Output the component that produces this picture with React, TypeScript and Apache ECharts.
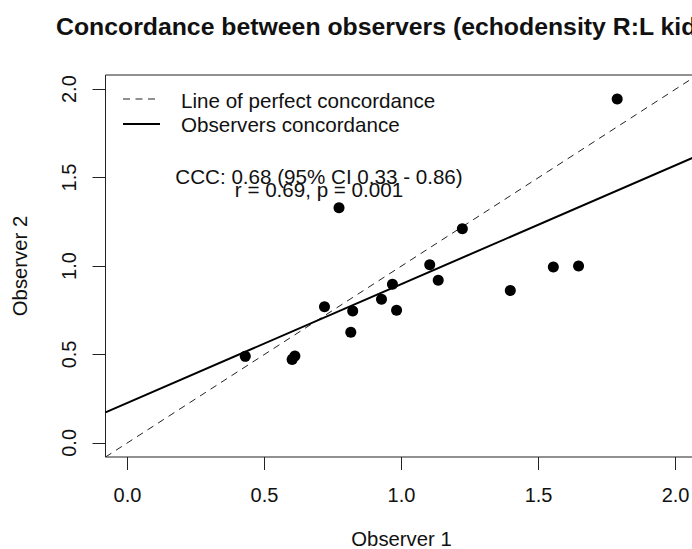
import React, { useEffect, useRef } from 'react';
import * as echarts from 'echarts';

const observer1 = [0.772, 1.222, 1.103, 1.134, 0.967, 0.927, 0.719, 0.822, 0.982, 0.815, 0.430, 0.601, 0.611, 1.397, 1.554, 1.646, 1.787];
const observer2 = [1.330, 1.210, 1.007, 0.920, 0.897, 0.812, 0.769, 0.746, 0.750, 0.625, 0.489, 0.472, 0.491, 0.862, 0.994, 1.000, 1.944];
const tickValues = [0, 0.5, 1, 1.5, 2];
const axisRange = [-0.08, 2.08];
const fitIntercept = 0.226;
const fitSlope = 0.672;
const titleText = 'Concordance between observers (echodensity R:L kid';
const legendLabels = ['Line of perfect concordance', 'Observers concordance'];
const statsLines = ['CCC: 0.68 (95% CI 0.33 - 0.86)', 'r = 0.69, p = 0.001'];
const xName = 'Observer 1';
const yName = 'Observer 2';

const FONT = '"Liberation Sans", Arial, Helvetica, sans-serif';
const INK = '#111';
const LINE = '#222';

export default function App() {
  const ref = useRef<HTMLDivElement>(null);
  useEffect(() => {
    document.body.style.margin = '0';
    if (!ref.current) return;
    const chart = echarts.init(ref.current, undefined, { renderer: 'svg' });
    const points = observer1.map((x, i) => [x, observer2[i]]);
    const identity = axisRange.map((v) => [v, v]);
    const fit = axisRange.map((x) => [x, fitIntercept + fitSlope * x]);
    const axisCommon = {
      type: 'value',
      min: axisRange[0],
      max: axisRange[1],
      axisLine: { show: false, onZero: false },
      splitLine: { show: false },
      axisTick: { show: true, customValues: tickValues, length: 13, lineStyle: { color: LINE, width: 1 } },
      nameLocation: 'middle',
      nameTextStyle: { fontSize: 20.3, color: INK, fontFamily: FONT },
    };
    chart.setOption({
      animation: false,
      textStyle: { fontFamily: FONT },
      title: {
        text: titleText,
        left: 51,
        top: 9,
        textStyle: { fontSize: 24.8, fontWeight: 'bold', color: INK, fontFamily: FONT },
      },
      grid: {
        left: 105.5,
        top: 75,
        width: 592,
        height: 382,
        show: true,
        borderColor: LINE,
        borderWidth: 1,
        backgroundColor: 'transparent',
        containLabel: false,
        outerBoundsMode: 'none',
      },
      xAxis: {
        ...axisCommon,
        name: xName,
        nameGap: 71.5,
        axisLabel: {
          customValues: tickValues,
          margin: 27.5,
          fontSize: 20,
          color: INK,
          fontFamily: FONT,
          formatter: (v: number) => v.toFixed(1),
        },
      },
      yAxis: {
        ...axisCommon,
        name: yName,
        nameGap: 76,
        axisLabel: {
          customValues: tickValues,
          rotate: 90,
          margin: 27,
          fontSize: 20,
          color: INK,
          fontFamily: FONT,
          formatter: (v: number) => v.toFixed(1),
        },
      },
      series: [
        {
          name: legendLabels[0],
          type: 'line',
          data: identity,
          symbol: 'none',
          lineStyle: { color: LINE, width: 1, type: [7, 5.5] },
          z: 2,
        },
        {
          name: legendLabels[1],
          type: 'line',
          data: fit,
          symbol: 'none',
          lineStyle: { color: '#000', width: 2 },
          z: 3,
        },
        {
          type: 'scatter',
          data: points,
          symbol: 'circle',
          symbolSize: 11,
          itemStyle: { color: '#000', opacity: 1 },
          z: 4,
        },
      ],
      graphic: [
        {
          type: 'line',
          shape: { x1: 123, y1: 99, x2: 160, y2: 99 },
          style: { stroke: LINE, lineWidth: 1, lineDash: [7, 5.5] },
        },
        {
          type: 'line',
          shape: { x1: 123, y1: 124, x2: 160, y2: 124 },
          style: { stroke: '#000', lineWidth: 2 },
        },
        {
          type: 'text',
          x: 181,
          y: 100,
          style: { text: legendLabels[0], fill: INK, font: `20.6px ${FONT}`, textAlign: 'left', textVerticalAlign: 'middle' },
        },
        {
          type: 'text',
          x: 181,
          y: 124.5,
          style: { text: legendLabels[1], fill: INK, font: `20.6px ${FONT}`, textAlign: 'left', textVerticalAlign: 'middle' },
        },
        {
          type: 'text',
          x: 319,
          y: 183,
          style: {
            text: statsLines.join('\n'),
            fill: INK,
            font: `20.6px ${FONT}`,
            lineHeight: 13.7,
            textAlign: 'center',
            textVerticalAlign: 'middle',
          },
        },
      ],
    });
    return () => chart.dispose();
  }, []);
  return <div ref={ref} style={{ position: 'absolute', left: 0, top: 0, width: 692, height: 549 }} />;
}
